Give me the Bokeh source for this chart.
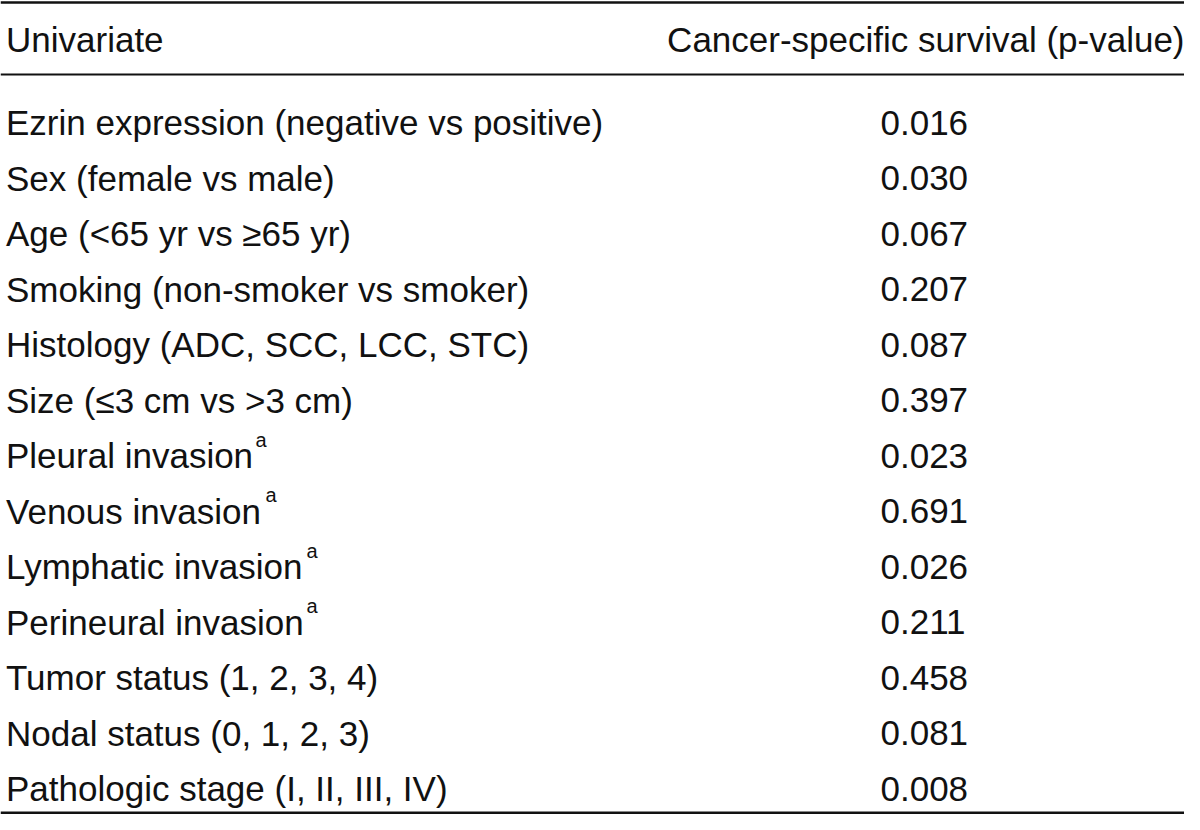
from bokeh.plotting import figure
from bokeh.models import Range1d, Span, ColumnDataSource
from bokeh.core.properties import value
from bokeh.embed import file_html
from bokeh.resources import INLINE

# ---- data ----
header_left = "Univariate"
header_right = "Cancer-specific survival (p-value)"
variables = [
    "Ezrin expression (negative vs positive)",
    "Sex (female vs male)",
    "Age (<65 yr vs \u226565 yr)",
    "Smoking (non-smoker vs smoker)",
    "Histology (ADC, SCC, LCC, STC)",
    "Size (\u22643 cm vs >3 cm)",
    "Pleural invasion",
    "Venous invasion",
    "Lymphatic invasion",
    "Perineural invasion",
    "Tumor status (1, 2, 3, 4)",
    "Nodal status (0, 1, 2, 3)",
    "Pathologic stage (I, II, III, IV)",
]
p_values = ["0.016", "0.030", "0.067", "0.207", "0.087", "0.397", "0.023",
            "0.691", "0.026", "0.211", "0.458", "0.081", "0.008"]
footnote_marks = ["", "", "", "", "", "", "a", "a", "a", "a", "", "", ""]

# ---- layout (reference pixel geometry) ----
W, H = 1184, 814
FONT = value("Liberation Sans")
FS = "35px"
SUP_FS = "20px"
TXT = "#111111"
ROW0 = 135.0      # baseline of first body row in reference px
STEP = 55.5       # row pitch
FIX = 13.0        # renderer baseline correction (px)

def row_of(py):
    return (py - ROW0) / STEP

rows = list(range(len(variables)))

p = figure(width=W, height=H, output_backend="svg", toolbar_location=None,
           x_range=Range1d(0, W),
           y_range=Range1d(row_of(H), row_of(0)),
           min_border=0, outline_line_color=None, background_fill_color="white",
           border_fill_color="white")
p.axis.visible = False
p.grid.visible = False

src = ColumnDataSource(dict(y=rows, var=variables, pv=p_values))

# body rows
p.text(x=5.5, y="y", text="var", source=src, text_font=FONT, text_font_size=FS,
       text_color=TXT, text_align="left", text_baseline="alphabetic", y_offset=-FIX)
p.text(x=880, y="y", text="pv", source=src, text_font=FONT, text_font_size=FS,
       text_color=TXT, text_align="left", text_baseline="alphabetic", y_offset=-FIX)

# footnote superscripts
sup_x = {6: 255, 7: 265, 8: 306, 9: 306}
sx, sy, st = [], [], []
for i, m in enumerate(footnote_marks):
    if m:
        sx.append(sup_x[i]); sy.append(i); st.append(m)
p.text(x=sx, y=sy, text=st, text_font=FONT, text_font_size=SUP_FS, text_color=TXT,
       text_align="left", text_baseline="alphabetic", y_offset=-16 - FIX)

# header
hy = row_of(52)
p.text(x=[5.5], y=[hy], text=[header_left], text_font=FONT, text_font_size=FS,
       text_color=TXT, text_align="left", text_baseline="alphabetic", y_offset=-FIX)
p.text(x=[1184], y=[hy], text=[header_right], text_font=FONT, text_font_size=FS,
       text_color=TXT, text_align="right", text_baseline="alphabetic", y_offset=-FIX)

# rules
p.add_layout(Span(location=row_of(2), dimension="width", line_color="#111111", line_width=2.5))
p.add_layout(Span(location=row_of(74), dimension="width", line_color="#111111", line_width=2))
p.add_layout(Span(location=row_of(812.5), dimension="width", line_color="#111111", line_width=3))

open("out.html", "w").write(file_html(p, INLINE))
